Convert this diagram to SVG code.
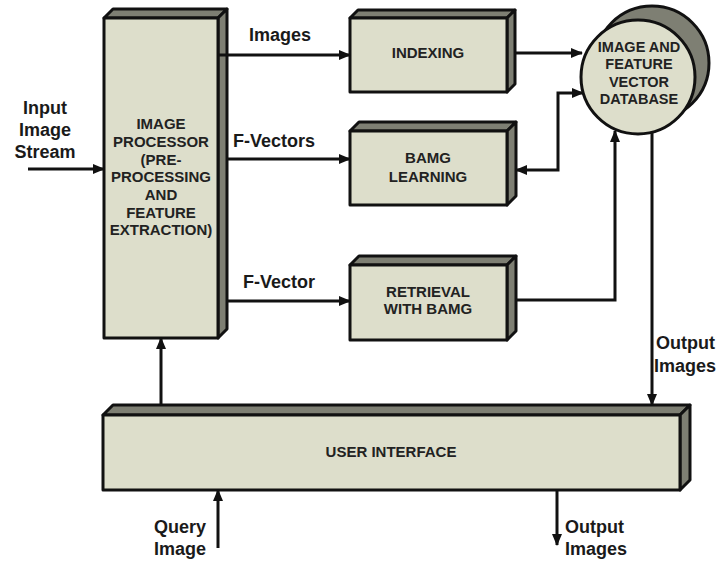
<svg xmlns="http://www.w3.org/2000/svg" width="720" height="561" viewBox="0 0 720 561">
<style>
.front{fill:#dddecb;stroke:#111;stroke-width:3;stroke-linejoin:round}
.bev{fill:#7e7f73;stroke:#111;stroke-width:3;stroke-linejoin:round}
.bt{font-family:"Liberation Sans",Arial,sans-serif;font-weight:bold;font-size:15px;fill:#222;text-anchor:middle}
.ct{font-size:14.5px}
.lb{font-family:"Liberation Sans",Arial,sans-serif;font-weight:bold;font-size:18px;fill:#1a1a1a}
.c{fill:none;stroke:#111;stroke-width:3}
</style>
<defs>
<marker id="ah" markerUnits="userSpaceOnUse" markerWidth="12" markerHeight="10" refX="11" refY="5" orient="auto-start-reverse">
<path d="M0,0 L12,5 L0,10 z" fill="#111"/>
</marker>
</defs>
<rect width="720" height="561" fill="#fff"/>

<g id="processor">
<path class="bev" d="M104,18 L113,9 L227,9 L218,18 Z"/>
<path class="bev" d="M218,18 L227,9 L227,329 L218,338 Z"/>
<rect class="front" x="104" y="18" width="114" height="320"/>
<text class="bt" x="161" y="129">IMAGE</text>
<text class="bt" x="161" y="147">PROCESSOR</text>
<text class="bt" x="161" y="165">(PRE-</text>
<text class="bt" x="161" y="182">PROCESSING</text>
<text class="bt" x="161" y="200">AND</text>
<text class="bt" x="161" y="218">FEATURE</text>
<text class="bt" x="161" y="235">EXTRACTION)</text>
</g>

<g id="indexing">
<path class="bev" d="M350,18 L358,10 L515,10 L507,18 Z"/>
<path class="bev" d="M507,18 L515,10 L515,84 L507,92 Z"/>
<rect class="front" x="350" y="18" width="157" height="74"/>
<text class="bt" x="428" y="58">INDEXING</text>
</g>

<g id="bamg">
<path class="bev" d="M350,131 L359,122 L516,122 L507,131 Z"/>
<path class="bev" d="M507,131 L516,122 L516,196 L507,205 Z"/>
<rect class="front" x="350" y="131" width="157" height="74"/>
<text class="bt" x="428" y="163">BAMG</text>
<text class="bt" x="428" y="182">LEARNING</text>
</g>

<g id="retrieval">
<path class="bev" d="M350,265 L359,256 L516,256 L507,265 Z"/>
<path class="bev" d="M507,265 L516,256 L516,331 L507,340 Z"/>
<rect class="front" x="350" y="265" width="157" height="75"/>
<text class="bt" x="428" y="297">RETRIEVAL</text>
<text class="bt" x="428" y="314">WITH BAMG</text>
</g>

<g id="database">
<circle cx="652" cy="63" r="57" fill="#7e7f73" stroke="#111" stroke-width="3"/>
<circle cx="638" cy="77" r="57" fill="#dddecb" stroke="#111" stroke-width="3"/>
<text class="bt ct" x="639" y="52">IMAGE AND</text>
<text class="bt ct" x="639" y="69">FEATURE</text>
<text class="bt ct" x="639" y="87">VECTOR</text>
<text class="bt ct" x="639" y="104">DATABASE</text>
</g>

<g id="ui">
<path class="bev" d="M103,415 L113,405 L690,405 L680,415 Z"/>
<path class="bev" d="M680,415 L690,405 L690,480 L680,490 Z"/>
<rect class="front" x="103" y="415" width="577" height="75"/>
<text class="bt" x="391" y="457">USER INTERFACE</text>
</g>

<g id="connectors">
<path class="c" d="M28,169 H104" marker-end="url(#ah)"/>
<path class="c" d="M219,55 H350" marker-end="url(#ah)"/>
<path class="c" d="M227,159 H350" marker-end="url(#ah)"/>
<path class="c" d="M227,301 H350" marker-end="url(#ah)"/>
<path class="c" d="M515,53 H582" marker-end="url(#ah)"/>
<path class="c" d="M516,170 H558 V93 H583" marker-start="url(#ah)" marker-end="url(#ah)"/>
<path class="c" d="M516,300 H615 V131" marker-end="url(#ah)"/>
<path class="c" d="M652,133 V405" marker-end="url(#ah)"/>
<path class="c" d="M161,405 V338" marker-end="url(#ah)"/>
<path class="c" d="M218,548 V490" marker-end="url(#ah)"/>
<path class="c" d="M557,490 V545" marker-end="url(#ah)"/>
</g>

<g id="labels">
<text class="lb" x="249" y="41">Images</text>
<text class="lb" x="233" y="147">F-Vectors</text>
<text class="lb" x="243" y="288">F-Vector</text>
<text class="lb" x="45" y="114" text-anchor="middle">Input</text>
<text class="lb" x="45" y="136" text-anchor="middle">Image</text>
<text class="lb" x="45" y="158" text-anchor="middle">Stream</text>
<text class="lb" x="656" y="349">Output</text>
<text class="lb" x="654" y="372">Images</text>
<text class="lb" x="206" y="533" text-anchor="end">Query</text>
<text class="lb" x="206" y="555" text-anchor="end">Image</text>
<text class="lb" x="565" y="533">Output</text>
<text class="lb" x="565" y="555">Images</text>
</g>
</svg>
